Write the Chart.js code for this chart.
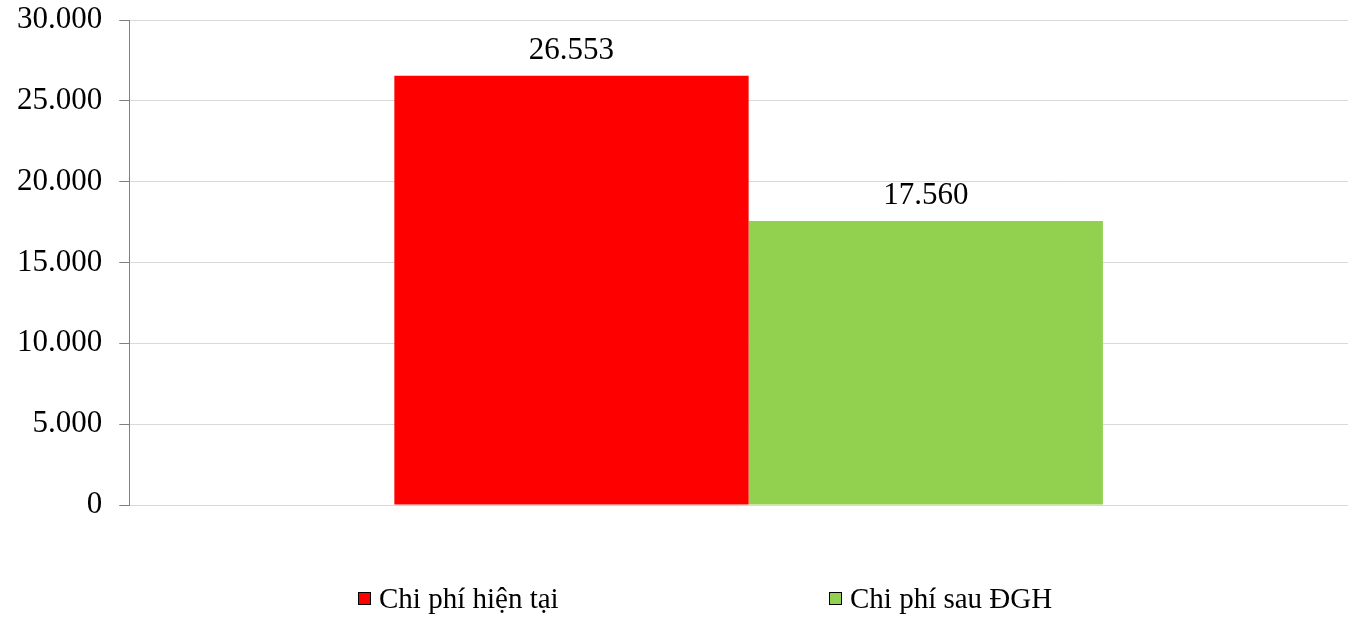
<!DOCTYPE html>
<html>
<head>
<meta charset="utf-8">
<script src="https://cdn.jsdelivr.net/npm/chart.js@4/dist/chart.umd.min.js"></script>
<style>
    html, body { margin: 0; padding: 0; background: #fff; overflow: hidden; }
    .wrap { position: relative; width: 1348px; height: 617px; overflow: hidden; }
    .js-graph { position: absolute; left: 0; top: 0; }
    .js-legend { position: absolute; left: 0; top: 583px; width: 1348px; height: 30px;
        font-family: "Liberation Serif", "Times New Roman", serif; font-size: 29px; color: #000; }
    .legend-item { position: absolute; top: 0; display: flex; align-items: center; white-space: nowrap; line-height: 30px; }
    .legend-box { display: inline-block; width: 11px; height: 11px; border: 1.5px solid #000; margin-right: 8px; }
</style>
</head>
<body>
<div class="wrap">
    <canvas class="js-graph" width="1368" height="617"></canvas>
    <div class="js-legend"></div>
</div>
<script>
    const categories = [''];
    const series_names = ['Chi phí hiện tại', 'Chi phí sau ĐGH'];
    const chi_phi_hien_tai = [26553];
    const chi_phi_sau_dgh = [17560];
    const series_colors = ['#ff0000', '#92d050'];
    const y_ticks = [0, 5000, 10000, 15000, 20000, 25000, 30000];

    const legend_left = [358, 829];

    const format_number = (n) => String(n).replace(/\B(?=(\d{3})+(?!\d))/g, '.');

    // value above every bar
    const value_labels = {
        id: 'value_labels',
        afterDatasetsDraw(chart) {
            const ctx = chart.ctx;
            ctx.save();
            ctx.font = '31px "Liberation Serif"';
            ctx.fillStyle = '#000';
            ctx.textAlign = 'center';
            ctx.textBaseline = 'alphabetic';
            chart.data.datasets.forEach((ds, i) => {
                chart.getDatasetMeta(i).data.forEach((bar, j) => {
                    ctx.fillText(format_number(ds.data[j]), bar.x, bar.y - 17);
                });
            });
            ctx.restore();
        }
    };

    const draw_legend = (chart) => {
        const $legend = document.querySelector('.js-legend');
        $legend.innerHTML = '';
        chart.data.datasets.forEach((ds, i) => {
            const $item = document.createElement('div');
            $item.className = 'legend-item';
            $item.style.left = legend_left[i] + 'px';
            const $box = document.createElement('span');
            $box.className = 'legend-box';
            $box.style.background = ds.backgroundColor;
            $item.appendChild($box);
            $item.appendChild(document.createTextNode(ds.label));
            $legend.appendChild($item);
        });
    };

    const draw_chart = () => {
        const ctx = document.querySelector('.js-graph').getContext('2d');

        const data = {
            labels: categories,
            datasets: [{
                label: series_names[0],
                data: chi_phi_hien_tai,
                backgroundColor: series_colors[0],
            }, {
                label: series_names[1],
                data: chi_phi_sau_dgh,
                backgroundColor: series_colors[1],
            }]
        };

        const chart = new Chart(ctx, {
            type: 'bar',
            data: data,
            plugins: [value_labels],
            options: {
                responsive: false,
                animation: false,
                layout: {
                    padding: { top: 20, bottom: 112, left: 0, right: 0 }
                },
                datasets: {
                    bar: { categoryPercentage: 0.572, barPercentage: 1 }
                },
                scales: {
                    x: {
                        display: false,
                    },
                    y: {
                        min: y_ticks[0],
                        max: y_ticks[y_ticks.length - 1],
                        afterBuildTicks: (axis) => {
                            axis.ticks = y_ticks.map((v) => ({ value: v }));
                        },
                        afterFit: (axis) => {
                            axis.paddingTop = 0;
                            axis.paddingBottom = 0;
                        },
                        grid: {
                            color: '#d9d9d9',
                            tickColor: '#808080',
                            tickLength: 10,
                            lineWidth: 1,
                        },
                        border: { color: '#808080', width: 1 },
                        ticks: {
                            padding: 17,
                            color: '#000',
                            font: { family: '"Liberation Serif"', size: 31 },
                            callback: (v) => format_number(v),
                        }
                    }
                },
                plugins: {
                    legend: { display: false },
                    tooltip: { enabled: false }
                }
            }
        });

        draw_legend(chart);
    };

    const init = () => {
        draw_chart();
    };

    init();
</script>
</body>
</html>
